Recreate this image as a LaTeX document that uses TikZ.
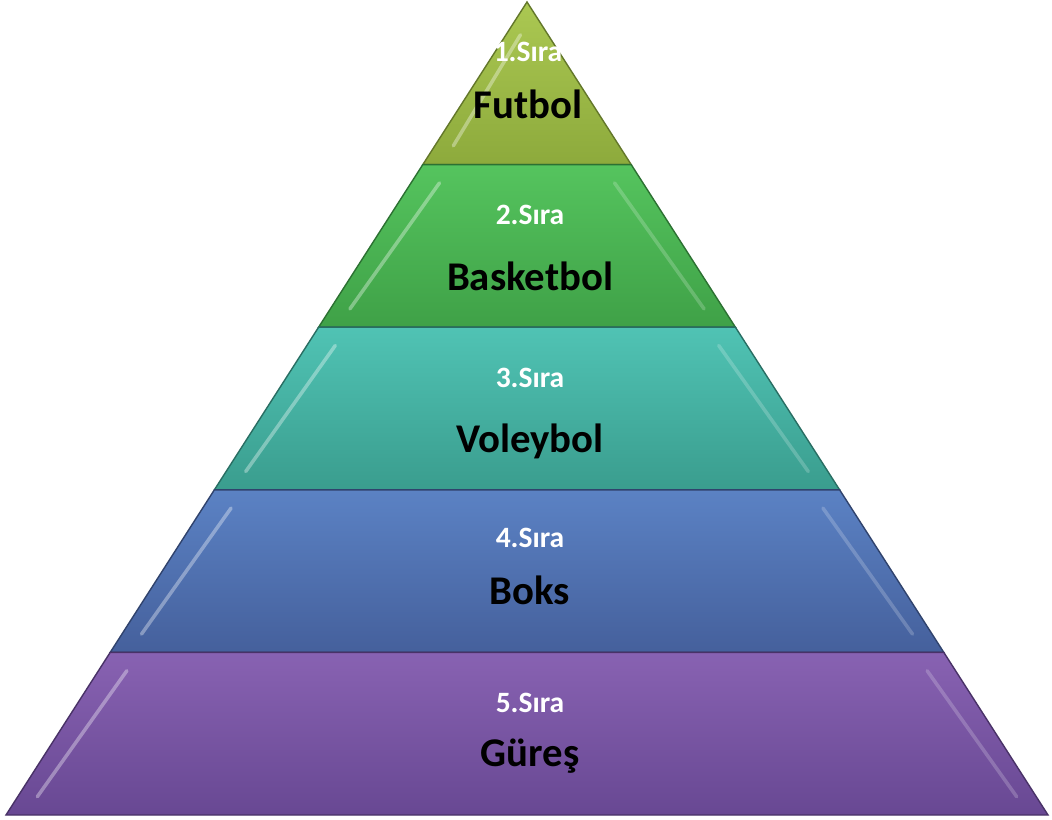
\documentclass[tikz,border=0pt]{standalone}
\usepackage{fontspec}
\setmainfont{Carlito}
\usetikzlibrary{calc}
\definecolor{sira1top}{HTML}{ABC852}
\definecolor{sira1bot}{HTML}{8DAA3C}
\definecolor{sira2top}{HTML}{55C45E}
\definecolor{sira2bot}{HTML}{3FA147}
\definecolor{sira3top}{HTML}{50C3B4}
\definecolor{sira3bot}{HTML}{3A9D8E}
\definecolor{sira4top}{HTML}{5B82C4}
\definecolor{sira4bot}{HTML}{45609C}
\definecolor{sira5top}{HTML}{8862B2}
\definecolor{sira5bot}{HTML}{684893}
\tikzset{
  katman/.style={line width=1pt,line join=miter},
  parlak/.style={line width=2.5pt,line cap=round,white,opacity=0.35,shorten <=9pt,shorten >=9pt},
  sirano/.style={anchor=base,font=\bfseries\fontsize{21}{23}\selectfont,text=white},
  spor/.style={anchor=base,font=\bfseries\fontsize{29}{31}\selectfont,text=black},
}
\begin{document}
\begin{tikzpicture}[x=0.025cm,y=-0.025cm]
\useasboundingbox (0,0) rectangle (1052,820);
% pyramid corners
\coordinate (tepe) at (527,2);
\coordinate (solalt) at (6,815);
\coordinate (sagalt) at (1048,815);
\coordinate (sol1) at ($(tepe)!0.2!(solalt)$);
\coordinate (sag1) at ($(tepe)!0.2!(sagalt)$);
\coordinate (sol2) at ($(tepe)!0.4!(solalt)$);
\coordinate (sag2) at ($(tepe)!0.4!(sagalt)$);
\coordinate (sol3) at ($(tepe)!0.6!(solalt)$);
\coordinate (sag3) at ($(tepe)!0.6!(sagalt)$);
\coordinate (sol4) at ($(tepe)!0.8!(solalt)$);
\coordinate (sag4) at ($(tepe)!0.8!(sagalt)$);
% layers
\draw[katman,draw=sira1bot!70!black,top color=sira1top,bottom color=sira1bot] (tepe) -- (sol1) -- (sag1) -- cycle;
\draw[katman,draw=sira2bot!70!black,top color=sira2top,bottom color=sira2bot] (sol1) -- (sol2) -- (sag2) -- (sag1) -- cycle;
\draw[katman,draw=sira3bot!70!black,top color=sira3top,bottom color=sira3bot] (sol2) -- (sol3) -- (sag3) -- (sag2) -- cycle;
\draw[katman,draw=sira4bot!70!black,top color=sira4top,bottom color=sira4bot] (sol3) -- (sol4) -- (sag4) -- (sag3) -- cycle;
\draw[katman,draw=sira5bot!70!black,top color=sira5top,bottom color=sira5bot] (sol4) -- (solalt) -- (sagalt) -- (sag4) -- cycle;
% bevel highlights
\draw[parlak] ($(tepe)+(0,22)$) -- ($(sol1)+(24,-8)$);
\draw[parlak] ($(sol1)+(24,8)$) -- ($(sol2)+(24,-8)$);
\draw[parlak] ($(sol2)+(24,8)$) -- ($(sol3)+(24,-8)$);
\draw[parlak] ($(sol3)+(24,8)$) -- ($(sol4)+(24,-8)$);
\draw[parlak] ($(sol4)+(24,8)$) -- ($(solalt)+(24,-8)$);
\draw[parlak,opacity=0.2] ($(sag1)+(-24,8)$) -- ($(sag2)+(-24,-8)$);
\draw[parlak,opacity=0.2] ($(sag2)+(-24,8)$) -- ($(sag3)+(-24,-8)$);
\draw[parlak,opacity=0.2] ($(sag3)+(-24,8)$) -- ($(sag4)+(-24,-8)$);
\draw[parlak,opacity=0.2] ($(sag4)+(-24,8)$) -- ($(sagalt)+(-24,-8)$);
% texts
\node[sirano] (no1) at (528,62) {1.Sıra};
\node[spor] (ad1) at (528,119) {Futbol};
\node[sirano] (no2) at (530,225) {2.Sıra};
\node[spor] (ad2) at (530,290) {Basketbol};
\node[sirano] (no3) at (530,387) {3.Sıra};
\node[spor] (ad3) at (530,452) {Voleybol};
\node[sirano] (no4) at (530,547) {4.Sıra};
\node[spor] (ad4) at (530,604) {Boks};
\node[sirano] (no5) at (530,712) {5.Sıra};
\node[spor] (ad5) at (530,766) {Güreş};
\end{tikzpicture}
\end{document}
